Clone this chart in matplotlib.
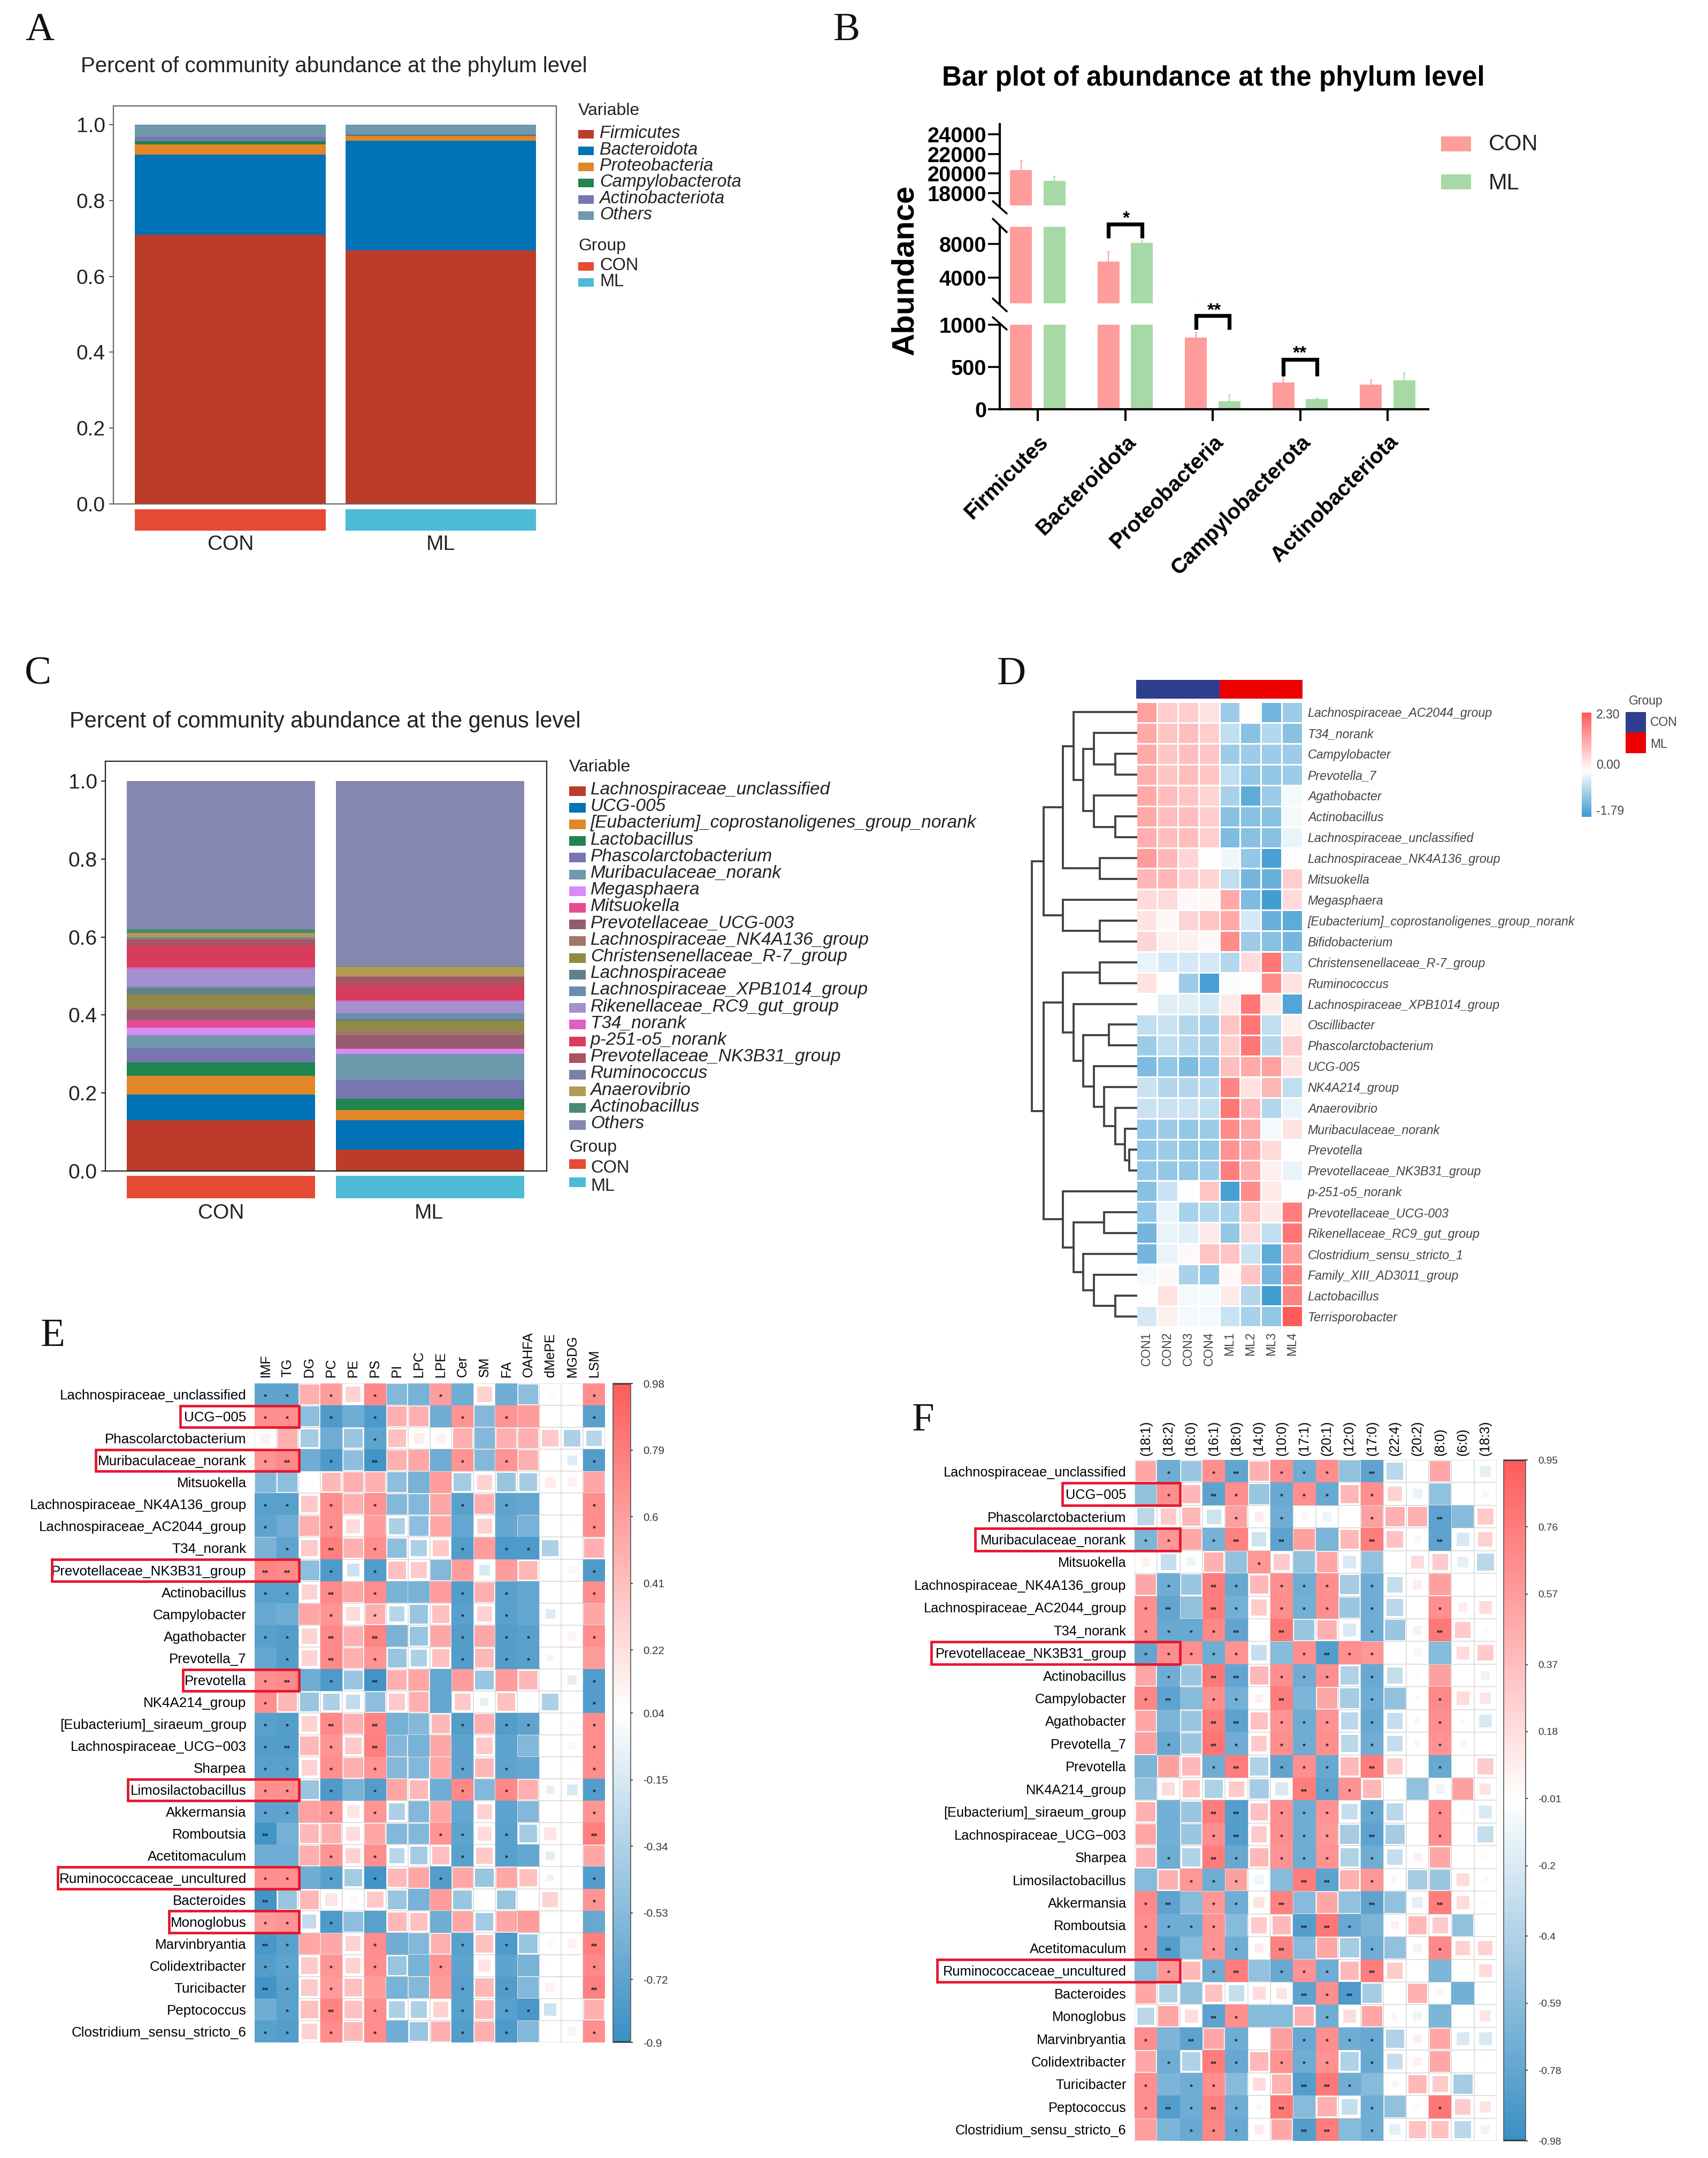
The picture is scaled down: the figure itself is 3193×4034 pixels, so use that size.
import numpy as np
import matplotlib
matplotlib.use("Agg")
import matplotlib.pyplot as plt
from matplotlib.colors import LinearSegmentedColormap, Normalize
from matplotlib.patches import Rectangle
from matplotlib.collections import PatchCollection
from matplotlib.cm import ScalarMappable

plt.rcParams['font.family'] = ['Liberation Sans', 'DejaVu Sans']
W, H = 3193, 4034

# ---------- Panel A ----------
a_groups = ['CON', 'ML']
a_names = ['Firmicutes', 'Bacteroidota', 'Proteobacteria', 'Campylobacterota', 'Actinobacteriota', 'Others']
a_con_tops = [0.710, 0.921, 0.948, 0.956, 0.967, 1.0]
a_ml_tops = [0.669, 0.9575, 0.970, 0.972, 0.974, 1.0]
a_colors = ['#BC3C29', '#0072B5', '#E18727', '#20854E', '#7876B1', '#6F99AD']
group_colors = ['#E64B35', '#4DBBD5']

# ---------- Panel B ----------
b_cats = ['Firmicutes', 'Bacteroidota', 'Proteobacteria', 'Campylobacterota', 'Actinobacteriota']
b_con = [20350, 5890, 848, 315, 292]
b_ml = [19270, 8130, 95, 120, 340]
b_con_err = [1000, 1230, 65, 75, 58]
b_ml_err = [460, 250, 75, 15, 90]

# ---------- Panel C ----------
c_names = ['Lachnospiraceae_unclassified', 'UCG-005', '[Eubacterium]_coprostanoligenes_group_norank',
           'Lactobacillus', 'Phascolarctobacterium', 'Muribaculaceae_norank', 'Megasphaera', 'Mitsuokella',
           'Prevotellaceae_UCG-003', 'Lachnospiraceae_NK4A136_group', 'Christensenellaceae_R-7_group',
           'Lachnospiraceae', 'Lachnospiraceae_XPB1014_group', 'Rikenellaceae_RC9_gut_group', 'T34_norank',
           'p-251-o5_norank', 'Prevotellaceae_NK3B31_group', 'Ruminococcus', 'Anaerovibrio', 'Actinobacillus',
           'Others']
c_con_tops = [.130, .196, .244, .279, .315, .348, .367, .387, .413, .420, .452, .469, .473, .519, .522,
              .577, .594, .599, .611, .620, 1.0]
c_ml_tops = [.055, .130, .156, .185, .233, .300, .313, .315, .349, .360, .385, .389, .404, .435, .4375,
             .476, .498, .500, .524, .526, 1.0]
c_colors = ['#BC3C29', '#0072B5', '#E18727', '#20854E', '#7876B1', '#6F99AD', '#D68CF5', '#E64B8E',
            '#925E6F', '#A5756A', '#8F8A45', '#5F8288', '#6C8DB0', '#A48FD0', '#DE60C0',
            '#D93B5C', '#A85560', '#7A80A0', '#B09A55', '#4B8A70', '#8488B0']

# ---------- Panel D ----------
d_cols = ['CON1', 'CON2', 'CON3', 'CON4', 'ML1', 'ML2', 'ML3', 'ML4']
d_rows = ['Lachnospiraceae_AC2044_group', 'T34_norank', 'Campylobacter', 'Prevotella_7', 'Agathobacter',
          'Actinobacillus', 'Lachnospiraceae_unclassified', 'Lachnospiraceae_NK4A136_group', 'Mitsuokella',
          'Megasphaera', '[Eubacterium]_coprostanoligenes_group_norank', 'Bifidobacterium',
          'Christensenellaceae_R-7_group', 'Ruminococcus', 'Lachnospiraceae_XPB1014_group', 'Oscillibacter',
          'Phascolarctobacterium', 'UCG-005', 'NK4A214_group', 'Anaerovibrio', 'Muribaculaceae_norank',
          'Prevotella', 'Prevotellaceae_NK3B31_group', 'p-251-o5_norank', 'Prevotellaceae_UCG-003',
          'Rikenellaceae_RC9_gut_group', 'Clostridium_sensu_stricto_1', 'Family_XIII_AD3011_group',
          'Lactobacillus', 'Terrisporobacter']
d_vals = [
    [1.3, .7, .7, .4, -.9, .05, -1.3, -.9],
    [1.2, .8, .9, .7, -.6, -1.1, -.7, -1.1],
    [1.2, .8, .9, .8, -.9, -.9, -.9, -.9],
    [1.1, .8, .9, .8, -.6, -1.0, -1.0, -.9],
    [1.2, .9, .8, .6, -.8, -1.5, -.9, -.1],
    [1.2, .9, .9, .7, -1.1, -1.1, -1.1, -.1],
    [1.1, .9, .9, .7, -1.2, -1.1, -1.1, -.2],
    [1.4, 1.0, .6, .05, -.15, -1.0, -1.7, 0],
    [1.0, 1.0, .7, .6, -.6, -1.3, -1.4, .7],
    [.5, .5, .1, .1, 1.2, -1.2, -1.75, .5],
    [.4, .1, .6, .8, 1.2, -.4, -1.4, -1.5],
    [.6, .2, .2, .1, 1.6, -.9, -1.1, -1.3],
    [-.2, -.4, -.4, -.4, -.7, .5, 1.9, -.7],
    [.4, 0, -.9, -1.7, -.05, .05, 1.6, .4],
    [0, -.3, -.3, -.4, .3, 1.9, .3, -1.6],
    [-.6, -.5, -.7, -.8, .8, 1.9, -.6, .2],
    [-.9, -.6, -.7, -.8, .7, 1.9, -.7, .7],
    [-1.2, -1.0, -1.2, -1.0, .9, 1.2, 1.3, .4],
    [-.5, -.7, -.7, -.7, 1.7, .4, 1.0, -.6],
    [-.5, -.5, -.5, -.6, 1.9, 1.0, -.7, -.2],
    [-1.0, -.9, -1.0, -.9, 1.6, 1.2, -.1, .4],
    [-1.0, -.9, -1.0, -1.0, 1.5, 1.2, .5, 0],
    [-1.0, -1.0, -1.0, -.9, 1.8, 1.1, .2, -.2],
    [-1.1, -.5, .05, .8, -1.7, 1.6, .3, 0],
    [-1.0, -.2, -.8, -.7, -.8, .8, .3, 1.8],
    [-1.3, -.2, -.3, .3, -1.0, .5, -.6, 1.9],
    [-1.3, -.2, .1, .8, .8, -.5, -1.5, 1.4],
    [-.1, .1, -.8, -1.0, .1, .8, -1.3, 1.7],
    [0, .4, -.1, -.1, .3, -.7, -1.75, 1.7],
    [-.4, .2, -.1, -.1, -.5, -.8, -1.0, 2.3],
]
# nested (height, left, right); leaves are row indices
d_tree = (228,
          (202,
           (160,
            (137, 0, (116, (92, 1, (46, 2, 3)), (92, 4, (46, 5, 6)))),
            (80, 7, 8)),
           (160, 9, (80, 10, 11))),
          (202,
           (160,
            (80, 12, 13),
            (137, 14, (116, (60, 15, 16),
                       (92, 17, (70, 18, (46, 19, (24, 20, (15, 21, 22)))))))),
           (160, 23,
            (137, (70, 24, 25),
             (116, 26, (92, 27, (46, 28, 29)))))))

# ---------- Panels E, F ----------
corr_rows = ['Lachnospiraceae_unclassified', 'UCG\u2212005', 'Phascolarctobacterium', 'Muribaculaceae_norank',
             'Mitsuokella', 'Lachnospiraceae_NK4A136_group', 'Lachnospiraceae_AC2044_group', 'T34_norank',
             'Prevotellaceae_NK3B31_group', 'Actinobacillus', 'Campylobacter', 'Agathobacter', 'Prevotella_7',
             'Prevotella', 'NK4A214_group', '[Eubacterium]_siraeum_group', 'Lachnospiraceae_UCG\u2212003',
             'Sharpea', 'Limosilactobacillus', 'Akkermansia', 'Romboutsia', 'Acetitomaculum',
             'Ruminococcaceae_uncultured', 'Bacteroides', 'Monoglobus', 'Marvinbryantia', 'Colidextribacter',
             'Turicibacter', 'Peptococcus', 'Clostridium_sensu_stricto_6']
e_cols = ['IMF', 'TG', 'DG', 'PC', 'PE', 'PS', 'PI', 'LPC', 'LPE', 'Cer', 'SM', 'FA', 'OAHFA', 'dMePE', 'MGDG', 'LSM']
e_vals = [
    [-.72, -.72, .5, .6, .3, .72, -.55, -.6, .6, -.65, .3, -.65, -.5, .07, .03, .7],
    [.68, .68, -.5, -.8, -.65, -.8, .5, .5, -.65, .65, -.55, .65, .6, 0, .02, -.75],
    [.12, .5, -.4, -.65, -.45, -.72, .4, .15, .12, .5, -.55, .5, .5, .35, -.35, -.3],
    [.65, .72, -.65, -.8, -.5, -.85, .5, .55, -.65, .65, -.55, .65, .5, .02, -.12, -.78],
    [-.55, -.5, .05, .45, .5, .5, -.5, -.6, .6, -.4, .3, -.45, -.4, .15, .12, .55],
    [-.75, -.75, .35, .7, .5, .65, -.55, -.55, .55, -.75, .5, -.72, -.7, 0, .03, .7],
    [-.72, -.65, .5, .68, .25, .6, -.35, -.5, .55, -.7, .3, -.7, -.6, 0, .02, .7],
    [-.6, -.72, .35, .78, .5, .68, -.5, -.35, .35, -.78, .6, -.8, -.8, -.35, .03, .5],
    [.75, .72, -.5, -.8, -.2, -.78, .4, .35, -.55, .6, -.15, .6, .45, 0, .08, -.8],
    [-.75, -.75, .3, .72, .55, .7, -.6, -.6, .6, -.78, .5, -.75, -.7, 0, .05, .7],
    [-.68, -.65, .55, .65, .25, .5, -.3, -.45, .4, -.75, .3, -.75, -.7, -.12, 0, .55],
    [-.75, -.78, .3, .72, .5, .75, -.6, -.45, .55, -.78, .55, -.78, -.75, 0, .1, .68],
    [-.7, -.78, .3, .72, .5, .65, -.45, -.35, .4, -.78, .45, -.78, -.75, -.05, 0, .6],
    [.68, .72, -.65, -.8, -.45, -.85, .5, .55, -.7, .6, -.45, .6, .45, 0, -.1, -.78],
    [.68, .45, -.45, -.35, -.25, -.5, .35, .5, -.7, .35, -.08, .4, .08, -.35, .03, -.78],
    [-.75, -.78, .3, .72, .5, .75, -.62, -.55, .45, -.78, .5, -.78, -.72, 0, .07, .7],
    [-.78, -.78, .45, .65, .35, .78, -.55, -.6, .55, -.72, .35, -.72, -.55, 0, .08, .7],
    [-.75, -.75, .3, .68, .5, .65, -.55, -.55, .55, -.72, .45, -.72, -.7, 0, .03, .7],
    [.68, .68, -.45, -.8, -.6, -.78, .55, .45, -.65, .72, -.55, .72, .5, -.08, -.15, -.78],
    [-.72, -.72, .58, .65, .2, .65, -.35, -.55, .55, -.7, .3, -.72, -.55, 0, .03, .65],
    [-.85, -.62, .45, .5, .25, .55, -.55, -.55, .65, -.72, .25, -.75, -.4, .2, 0, .78],
    [-.65, -.65, .5, .65, .3, .68, -.3, -.4, .4, -.75, .35, -.75, -.7, -.1, 0, .55],
    [.68, .68, -.65, -.75, -.4, -.85, .45, .55, -.78, .55, -.45, .55, .4, -.06, .03, -.78],
    [-.85, -.45, .45, .2, .08, .35, -.45, -.6, .6, -.45, .05, -.45, 0, .3, .03, .65],
    [.62, .65, -.25, -.8, -.5, -.75, .45, .4, -.65, .55, -.4, .55, .6, 0, 0, -.68],
    [-.82, -.75, .55, .55, .3, .7, -.65, -.55, .5, -.75, .4, -.8, -.45, .08, .12, .78],
    [-.78, -.72, .35, .65, .3, .68, -.45, -.6, .65, -.72, .2, -.72, -.6, .03, 0, .72],
    [-.85, -.75, .35, .62, .4, .6, -.6, -.55, .6, -.75, .45, -.78, -.55, .12, .03, .78],
    [-.65, -.75, .4, .75, .4, .7, -.35, -.35, .3, -.75, .45, -.75, -.82, -.2, 0, .5],
    [-.75, -.78, .3, .7, .45, .7, -.65, -.45, .5, -.78, .5, -.8, -.55, .05, .1, .68],
]
e_stars = ["1101010010000001", "1101010001010001", "0000010000000000", "1201020001010001", "0000000000000000",
           "1101010001010001", "1001000000000001", "0102010001011000", "2201010000000001", "1102010001010001",
           "0001010001010000", "1102020001011001", "0102010001011000", "1201020000000001", "1000000000000001",
           "1102020001011001", "1201020000000001", "1101010001010001", "1101010001010001", "1101010000000001",
           "2000000011010002", "0001010001010000", "1101010010000001", "2000000000000001", "1101000000000000",
           "2100010001010002", "1101010010000001", "2101000001010002", "0102010001011000", "1101010001010001"]
e_ticks = [-.9, -.72, -.53, -.34, -.15, .04, .22, .41, .6, .79, .98]
e_boxes = {'UCG\u2212005': -3.4, 'Muribaculaceae_norank': -7.25, 'Prevotellaceae_NK3B31_group': -9.27,
           'Prevotella': -3.27, 'Limosilactobacillus': -5.78, 'Ruminococcaceae_uncultured': -9.0, 'Monoglobus': -3.92}

f_cols = ['(18:1)', '(18:2)', '(16:0)', '(16:1)', '(18:0)', '(14:0)', '(10:0)', '(17:1)', '(20:1)', '(12:0)',
          '(17:0)', '(22:4)', '(20:2)', '(8:0)', '(6:0)', '(18:3)']
f_vals = [
    [.5, -.72, -.5, .65, -.78, .45, .65, -.72, .65, -.55, -.8, -.35, 0, .5, 0, -.15],
    [-.55, .65, .4, -.8, .65, -.5, -.75, .65, -.75, .4, .65, .25, -.12, -.55, 0, .05],
    [-.35, .3, .4, -.25, .55, .1, -.72, .05, -.1, 0, .55, .45, .45, -.8, -.6, .3],
    [-.65, .6, .5, -.68, .72, -.25, -.8, .55, -.65, .4, .75, .35, .05, -.8, -.2, .25],
    [.08, -.3, -.1, .45, -.55, .6, .3, -.55, .5, -.2, -.55, 0, .2, .3, -.15, -.35],
    [.5, -.72, -.5, .75, -.75, .4, .65, -.72, .65, -.45, -.72, -.3, .1, .55, 0, .02],
    [.65, -.78, -.55, .75, -.7, .3, .65, -.7, .65, -.5, -.72, -.35, 0, .65, .1, .2],
    [.65, -.75, -.75, .68, -.78, 0, .78, -.5, .45, -.2, -.72, -.5, -.1, .78, .3, .03],
    [-.78, .65, .65, -.72, .62, -.3, -.6, .65, -.85, .65, .6, .02, -.08, -.6, .2, .3],
    [.5, -.72, -.5, .78, -.78, .4, .65, -.72, .65, -.4, -.75, -.3, .03, .55, 0, -.1],
    [.7, -.8, -.6, .65, -.7, .08, .75, -.65, .5, -.45, -.72, -.55, .03, .68, .2, .15],
    [.5, -.65, -.5, .75, -.8, .35, .62, -.72, .62, -.35, -.75, -.3, .05, .65, .03, -.2],
    [.55, -.75, -.5, .8, -.72, .3, .65, -.72, .65, -.35, -.72, -.3, .05, .62, .05, 0],
    [-.65, .55, .4, -.72, .75, -.4, -.78, .65, -.75, .4, .75, .3, 0, -.75, 0, .3],
    [-.55, .2, .35, -.4, .3, -.45, -.2, .75, -.8, .62, .4, 0, -.55, -.1, .55, .15],
    [.45, -.7, -.5, .75, -.85, .35, .65, -.72, .62, -.3, -.75, -.35, 0, .65, .03, -.2],
    [.5, -.7, -.5, .65, -.85, .3, .65, -.72, .6, -.45, -.8, -.45, 0, .65, 0, -.3],
    [.45, -.72, -.4, .75, -.75, .4, .62, -.72, .62, -.4, -.72, -.3, .08, .5, 0, .03],
    [-.6, .45, .6, -.72, .55, -.1, -.6, .75, -.8, .45, .6, .05, -.45, -.5, .2, .04],
    [.68, -.8, -.6, .6, -.72, .15, .72, -.6, .5, -.55, -.8, -.55, -.15, .75, .2, .03],
    [.65, -.72, -.72, .62, -.6, .3, .4, -.85, .78, -.75, -.65, .08, .4, .3, -.55, 0],
    [.65, -.85, -.6, .62, -.72, .1, .72, -.6, .5, -.45, -.72, -.55, -.1, .68, .25, .25],
    [-.6, .6, .4, -.72, .75, -.55, -.75, .62, -.72, .4, .75, .3, 0, -.65, 0, .2],
    [.5, -.4, -.55, .35, -.3, .2, .15, -.8, .65, -.88, -.45, 0, .45, .05, -.7, 0],
    [-.35, .5, .2, -.8, .65, -.6, -.6, .45, -.72, .2, .5, .05, -.1, -.65, 0, .15],
    [.65, -.65, -.8, .5, -.72, 0, .55, -.75, .65, -.72, -.75, -.4, .08, .5, -.2, -.2],
    [.5, -.72, -.4, .75, -.75, .4, .62, -.72, .62, -.4, -.75, -.3, .08, .5, 0, .02],
    [.65, -.65, -.72, .65, -.6, .2, .45, -.85, .78, -.72, -.6, .05, .4, .3, -.45, 0],
    [.65, -.85, -.72, .72, -.72, .05, .78, -.6, .45, -.3, -.72, -.55, -.05, .78, .3, .15],
    [.55, -.65, -.75, .7, -.75, .1, .5, -.85, .75, -.6, -.72, -.15, .35, .35, -.35, -.1],
]
f_stars = ["0101201110200000", "0102101110100000", "0000101000100200", "1101202000200200", "0000010000000000",
           "0102101110100000", "1202101110100100", "1111202000100200", "1111100121100000", "0102201110100000",
           "1201102000100100", "0002201110100100", "0102101110100100", "0001201110200100", "0000000211000000",
           "0002201110100100", "0001201110200100", "0102101110100000", "0011100220100000", "1201102000200200",
           "1111000221000000", "1201102000100100", "0101201110200000", "0000000212000000", "0002100010000000",
           "1020100111100000", "0102101110100000", "1011000221000000", "1212102000100100", "0011100220100000"]
f_ticks = [-.98, -.78, -.59, -.4, -.2, -.01, .18, .37, .57, .76, .95]
f_boxes = {'UCG\u2212005': -3.2, 'Muribaculaceae_norank': -7.05, 'Prevotellaceae_NK3B31_group': -8.97,
           'Ruminococcaceae_uncultured': -8.73}

# ---------- Layout ----------
fig = plt.figure(figsize=(W / 100, H / 100), dpi=100, facecolor='white')


def axpx(l, t, r, b, **kw):
    return fig.add_axes([l / W, 1 - b / H, (r - l) / W, (b - t) / H], **kw)


ov = axpx(0, 0, W, H, zorder=50)
ov.set_xlim(0, W)
ov.set_ylim(H, 0)
ov.axis('off')
ov.patch.set_alpha(0)


def lab(x, y, s, **kw):
    kw.setdefault('va', 'center')
    kw.setdefault('ha', 'left')
    return ov.text(x, y, s, **kw)


def box(x0, y0, x1, y1, c):
    ov.add_patch(Rectangle((x0, y0), x1 - x0, y1 - y0, fc=c, ec='none'))


SERIF = ['Liberation Serif', 'DejaVu Serif']
for s, x, y in [('A', 47, 57), ('B', 1558, 57), ('C', 46, 1261), ('D', 1864, 1261), ('E', 76, 2498), ('F', 1705, 2656)]:
    lab(x, y, s, fontsize=54, family=SERIF, color='#111')


def stacked(l, t, r, b, g_t, g_b, c0, spacing, width, y1px, y0px, names, tops, colors, frame, tickfs):
    ax = axpx(l, t, r, b)
    ppu = y0px - y1px
    ax.set_ylim((y0px - b) / ppu, (y0px - t) / ppu)
    xl = ((l - c0) / spacing, (r - c0) / spacing)
    ax.set_xlim(*xl)
    for gi, tp in enumerate(tops):
        prev = 0
        for k, v in enumerate(tp):
            ax.bar(gi, v - prev, width, bottom=prev, color=colors[k], lw=0)
            prev = v
    ax.set_xticks([])
    ax.set_yticks([0, .2, .4, .6, .8, 1.0], ['0.0', '0.2', '0.4', '0.6', '0.8', '1.0'])
    ax.tick_params(axis='y', labelsize=tickfs, length=6, width=1.5, color=frame, pad=5, labelcolor='#222')
    for sp in ax.spines.values():
        sp.set_color(frame)
        sp.set_linewidth(1.6)
    gx = axpx(l, g_t, r, g_b)
    gx.set_xlim(*xl)
    gx.set_ylim(0, 1)
    gx.bar([0, 1], [1, 1], width, color=group_colors, lw=0)
    gx.axis('off')
    return ax


stacked(212, 198, 1040, 942, 952, 992, 430.5, 393.5, .907, 233, 942, a_names, [a_con_tops, a_ml_tops], a_colors, '#666', 28)
lab(151, 124, 'Percent of community abundance at the phylum level', fontsize=29, color='#222')
lab(431, 1018, 'CON', fontsize=28, ha='center', color='#222')
lab(824, 1018, 'ML', fontsize=28, ha='center', color='#222')
lab(1081, 207, 'Variable', fontsize=23, color='#222')
for n, c, y in zip(a_names, a_colors, [251, 282, 312, 342, 373, 403]):
    box(1081, y - 8, 1110, y + 8, c)
    lab(1121, y - 2, n, fontsize=23.5, style='italic', color='#222')
lab(1081, 460, 'Group', fontsize=23, color='#222')
for n, c, y in zip(a_groups, group_colors, [498, 528]):
    box(1081, y - 8, 1110, y + 8, c)
    lab(1121, y - 2, n, fontsize=23.5, color='#222')

stacked(197, 1423, 1022, 2189, 2198, 2240, 413, 391, .9, 1460, 2189, c_names, [c_con_tops, c_ml_tops], c_colors, '#222', 28)
lab(130, 1349, 'Percent of community abundance at the genus level', fontsize=29.9, color='#222')
lab(413, 2268, 'CON', fontsize=28, ha='center', color='#222')
lab(802, 2268, 'ML', fontsize=28, ha='center', color='#222')
lab(1064, 1434, 'Variable', fontsize=23, color='#222')
for i, (n, c) in enumerate(zip(c_names, c_colors)):
    y = 1478.5 + i * 31.2
    box(1064, y - 9, 1095, y + 9, c)
    lab(1104, y - 2, n, fontsize=24, style='italic', color='#222')
lab(1064, 2145, 'Group', fontsize=23, color='#222')
for n, c, y in zip(a_groups, group_colors, [2176, 2210]):
    box(1064, y - 9, 1095, y + 9, c)
    lab(1104, y + 7, n, fontsize=23.5, color='#222')

# Panel B: three stacked axis segments of a broken y axis
segs = [(607, 765, (0, 1000), [0, 500, 1000]),
        (424, 567, (1000, 10000), [4000, 8000]),
        (232, 384, (16750, 25030), [18000, 20000, 22000, 24000])]
b_l, b_r, b_c0, b_sp = 1869, 2670, 1940, 163.5
pos = np.arange(len(b_cats))
b_axes = []
for t, b, yl, ticks in segs:
    ax = axpx(b_l, t, b_r, b)
    ax.set_xlim((b_l - b_c0) / b_sp, (b_r - b_c0) / b_sp)
    ax.set_ylim(*yl)
    ax.bar(pos - .19, b_con, .25, color='#FF9C9C', lw=0)
    ax.bar(pos + .19, b_ml, .25, color='#A6D9A6', lw=0)
    ax.errorbar(pos - .19, b_con, yerr=[np.zeros(5), b_con_err], fmt='none', ecolor='#FF9C9C', elinewidth=1.5, capsize=2)
    ax.errorbar(pos + .19, b_ml, yerr=[np.zeros(5), b_ml_err], fmt='none', ecolor='#A6D9A6', elinewidth=1.5, capsize=2)
    ax.set_yticks(ticks, [str(v) for v in ticks])
    ax.tick_params(axis='y', labelsize=28.5, length=16, width=2.6, pad=2)
    for l_ in ax.get_yticklabels():
        l_.set_fontweight('bold')
    for sp in ['top', 'right', 'bottom']:
        ax.spines[sp].set_visible(False)
    ax.spines['left'].set_linewidth(3)
    ax.set_xticks([])
    ax.patch.set_alpha(0)
    b_axes.append(ax)
low, mid, up = b_axes
low.spines['bottom'].set_visible(True)
low.spines['bottom'].set_linewidth(3)
low.set_xticks(pos)
low.set_xticklabels(b_cats, rotation=45, ha='right', va='top', rotation_mode='anchor', fontsize=29, fontweight='bold')
low.tick_params(axis='x', length=16, width=3, pad=14)


def bracket(ax, i, ytop, ybot):
    ax.plot([i - .19, i - .19, i + .19, i + .19], [ybot, ytop, ytop, ybot], color='k', lw=5.2, clip_on=False,
            solid_joinstyle='miter', solid_capstyle='butt', zorder=5)


bracket(mid, 1, 10330, 8660)
bracket(low, 2, 1109, 943)
bracket(low, 3, 587, 390)
for x, y, s in [(2105, 409, '*'), (2270, 581, '**'), (2430, 661, '**')]:
    lab(x, y, s, fontsize=24, ha='center', fontweight='bold')
for x0, y0, x1, y1 in [(1855, 375, 1883, 400), (1855, 408, 1883, 435), (1855, 557, 1883, 583), (1855, 592, 1883, 617)]:
    ov.plot([x0, x1], [y0, y1], color='k', lw=2.6, solid_capstyle='butt')
lab(1692, 505, 'Abundance', fontsize=42, fontweight='bold', rotation=90, ha='center')
lab(2268, 146, 'Bar plot of abundance at the phylum level', fontsize=36.8, fontweight='bold', ha='center')
box(2694, 255, 2750, 283, '#FF9C9C')
box(2694, 326, 2750, 354, '#A6D9A6')
lab(2783, 270, 'CON', fontsize=30, color='#222')
lab(2783, 343, 'ML', fontsize=30, color='#222')

# Panel D
heat_cm = LinearSegmentedColormap.from_list('heat', ['#3F9BD2', '#FFFFFF', '#FF5A5A'])
d_norm = matplotlib.colors.TwoSlopeNorm(vmin=-1.79, vcenter=0, vmax=2.3)
axd = axpx(2124, 1312, 2435, 2480)
axd.pcolormesh(np.array(d_vals), cmap=heat_cm, norm=d_norm, edgecolors='white', linewidth=1)
axd.set_ylim(len(d_rows), 0)
axd.yaxis.tick_right()
axd.set_yticks(np.arange(len(d_rows)) + .5, d_rows, fontsize=16.7, style='italic', color='#444')
axd.set_xticks(np.arange(len(d_cols)) + .5, d_cols, rotation=90, fontsize=16.5, color='#444')
axd.tick_params(length=0, pad=7)
for sp in axd.spines.values():
    sp.set_visible(False)
gd = axpx(2124, 1271, 2435, 1306)
gd.set_xlim(0, 8)
gd.set_ylim(0, 1)
gd.bar(np.arange(8) + .5, np.ones(8), 1, color=['#2E3E8F'] * 4 + ['#EE0000'] * 4, lw=0)
gd.axis('off')
den = axpx(1929, 1312, 2124, 2480)
den.set_xlim(228, 0)
den.set_ylim(len(d_rows), 0)
den.axis('off')


def draw_tree(node):
    if not isinstance(node, tuple):
        return node + .5, 0
    h, a, b = node
    ya, ha = draw_tree(a)
    yb, hb = draw_tree(b)
    den.plot([ha, h, h, hb], [ya, ya, yb, yb], color='#444', lw=2.8, clip_on=False, solid_joinstyle='miter')
    return (ya + yb) / 2, h


draw_tree(d_tree)
dcb = axpx(2957, 1332, 2975, 1527)
dcb.imshow(np.linspace(2.3, -1.79, 200)[:, None], aspect='auto', cmap=heat_cm, norm=d_norm, extent=(0, 1, -1.79, 2.3))
dcb.axis('off')
for s, y in [('2.30', 1336), ('0.00', 1430), ('-1.79', 1516)]:
    lab(2984, y, s, fontsize=16.5, color='#444')
lab(3045, 1310, 'Group', fontsize=16.5, color='#444')
box(3039, 1331, 3077, 1369, '#2E3E8F')
box(3039, 1369, 3077, 1408, '#EE0000')
lab(3085, 1350, 'CON', fontsize=16.5, color='#444')
lab(3085, 1391, 'ML', fontsize=16.5, color='#444')

# Panels E and F
corr_cm = LinearSegmentedColormap.from_list('corr', ['#3A8FC4', '#FFFFFF', '#FF5C5C'])


def corr_panel(l, t, r, b, cols, vals, stars, boxes, ticks, cb_l, cb_r, cbfs, colpad, rowfs):
    ax = axpx(l, t, r, b)
    nr, nc = len(corr_rows), len(cols)
    ax.set_xlim(0, nc)
    ax.set_ylim(nr, 0)
    norm = Normalize(ticks[0], ticks[-1])
    patches, fc = [], []
    for i, row in enumerate(vals):
        for j, v in enumerate(row):
            side = min(1.0, np.sqrt(abs(v) / .62))
            patches.append(Rectangle((j + .5 - side / 2, i + .5 - side / 2), side, side))
            fc.append(corr_cm(norm(v)))
            n = int(stars[i][j])
            if n:
                ax.text(j + .5, i + .62, '*' * n, ha='center', va='center', fontsize=11, color='#222', fontweight='bold', zorder=4)
    ax.add_collection(PatchCollection(patches, facecolors=fc, edgecolors='none', zorder=2))
    ax.set_xticks(np.arange(nc + 1), minor=True)
    ax.set_yticks(np.arange(nr + 1), minor=True)
    ax.grid(which='minor', color='#DADADA', lw=1.2, zorder=1)
    ax.set_axisbelow(True)
    ax.tick_params(which='minor', length=0)
    ax.set_yticks(np.arange(nr) + .5, corr_rows, fontsize=rowfs)
    ax.xaxis.tick_top()
    ax.set_xticks(np.arange(nc) + .5, cols, rotation=90, fontsize=18)
    ax.tick_params(which='major', length=0)
    ax.tick_params(axis='y', which='major', pad=11)
    ax.tick_params(axis='x', which='major', pad=colpad)
    for sp in ax.spines.values():
        sp.set_visible(False)
    for name, left in boxes.items():
        i = corr_rows.index(name)
        ax.add_patch(Rectangle((left, i + .02), 2.02 - left, .98, fc='none', ec='#E8152D', lw=3.4, clip_on=False, zorder=6))
    cax = axpx(cb_l, t, cb_r, b)
    cb = fig.colorbar(ScalarMappable(norm=norm, cmap=corr_cm), cax=cax)
    cb.set_ticks(ticks, labels=[('%g' % v) for v in ticks])
    cb.ax.tick_params(labelsize=cbfs, length=3, width=1.5, pad=14, color='#444', labelcolor='#333')
    cb.outline.set_edgecolor('#555')
    cb.outline.set_linewidth(1.2)
    cax.axhline(ticks[0], color='#222', lw=3)
    cax.axhline(ticks[-1], color='#222', lw=3)


corr_panel(476, 2586, 1131, 3818, e_cols, e_vals, e_stars, e_boxes, e_ticks, 1146, 1179, 14.8, 9, 18.7)
corr_panel(2121, 2729, 2798, 4002, f_cols, f_vals, f_stars, f_boxes, f_ticks, 2811, 2852, 13.8, 6, 18.3)

fig.savefig('out.png', dpi=100, facecolor='white')
